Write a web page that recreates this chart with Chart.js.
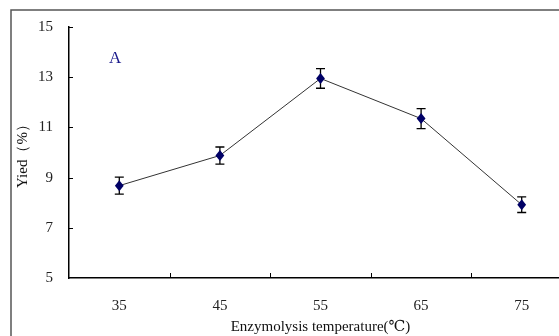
<!DOCTYPE html>
<html>
<head>
<meta charset="utf-8">
<script src="https://cdn.jsdelivr.net/npm/chart.js@4"></script>
<style>
  html, body { margin: 0; padding: 0; background: #fff; overflow: hidden; width: 559px; height: 336px; }
  #wrap { position: relative; width: 580px; height: 336px; }
</style>
</head>
<body>
<div id="wrap"><canvas id="c" width="580" height="336"></canvas></div>
<script>
const categories = ['35', '45', '55', '65', '75'];
const yieldValues = [8.68, 9.88, 12.95, 11.35, 7.92];
const errorValues = [0.34, 0.34, 0.39, 0.4, 0.31];
const yTicks = [5, 7, 9, 11, 13, 15];

const serif = '"Liberation Serif", "DejaVu Serif", serif';

const framePlugin = {
  id: 'frame',
  beforeDraw(chart) {
    const ctx = chart.ctx;
    ctx.save();
    ctx.strokeStyle = '#555';
    ctx.lineWidth = 1.5;
    ctx.strokeRect(11, 10, 700, 400);
    ctx.restore();
  }
};

const decoPlugin = {
  id: 'deco',
  afterDatasetsDraw(chart) {
    const ctx = chart.ctx;
    const x = chart.scales.x, y = chart.scales.y;
    ctx.save();
    ctx.strokeStyle = '#000';
    ctx.lineWidth = 1;
    yTicks.forEach(v => {
      if (v === yTicks[0]) return;
      const py = Math.round(y.getPixelForValue(v)) + 0.5;
      ctx.beginPath();
      ctx.moveTo(x.left, py);
      ctx.lineTo(x.left + 4, py);
      ctx.stroke();
    });
    for (let i = 0; i < categories.length; i++) {
      const px = Math.round((x.getPixelForValue(i) + x.getPixelForValue(i + 1)) / 2) + 0.5;
      ctx.beginPath();
      ctx.moveTo(px, y.bottom);
      ctx.lineTo(px, y.bottom - 5);
      ctx.stroke();
    }
    ctx.strokeStyle = '#000';
    ctx.lineWidth = 1.3;
    yieldValues.forEach((v, i) => {
      const px = x.getPixelForValue(i);
      const top = y.getPixelForValue(v + errorValues[i]);
      const bot = y.getPixelForValue(v - errorValues[i]);
      ctx.beginPath();
      ctx.moveTo(px, top); ctx.lineTo(px, bot);
      ctx.moveTo(px - 4.5, top); ctx.lineTo(px + 4.5, top);
      ctx.moveTo(px - 4.5, bot); ctx.lineTo(px + 4.5, bot);
      ctx.stroke();
    });
    const meta = chart.getDatasetMeta(0);
    ctx.fillStyle = '#000066';
    meta.data.forEach(pt => {
      const r = 5.5;
      ctx.beginPath();
      ctx.moveTo(pt.x, pt.y - r);
      ctx.lineTo(pt.x + r * 0.8, pt.y);
      ctx.lineTo(pt.x, pt.y + r);
      ctx.lineTo(pt.x - r * 0.8, pt.y);
      ctx.closePath();
      ctx.fill();
    });
    ctx.fillStyle = '#1a1a8c';
    ctx.font = '17px ' + serif;
    ctx.textAlign = 'left';
    ctx.textBaseline = 'middle';
    ctx.fillText('A', 109, 59);
    ctx.restore();
  }
};

new Chart(document.getElementById('c'), {
  type: 'line',
  data: {
    labels: categories,
    datasets: [{
      data: yieldValues,
      borderColor: '#333',
      borderWidth: 1,
      pointRadius: 0,
      pointHoverRadius: 0,
      tension: 0,
      fill: false
    }]
  },
  options: {
    responsive: false,
    animation: false,
    events: [],
    layout: { padding: { top: 27, right: 8, bottom: 0, left: 14 } },
    plugins: { legend: { display: false }, tooltip: { enabled: false } },
    scales: {
      x: {
        type: 'category',
        offset: true,
        grid: { display: true, drawOnChartArea: false, drawTicks: false, offset: true, color: 'rgba(0,0,0,0)' },
        border: { display: true, color: '#000', width: 1.5 },
        ticks: { color: '#222', font: { family: serif, size: 15 }, padding: 19, maxRotation: 0 },
        title: { display: true, text: 'Enzymolysis temperature(℃)', color: '#111', font: { family: serif, size: 15 }, padding: { top: 0, bottom: 0 } },
        afterFit(s) { s.height = 58; }
      },
      y: {
        min: 5, max: 15,
        afterBuildTicks(s) { s.ticks = yTicks.map(v => ({ value: v })); },
        grid: { display: true, drawOnChartArea: false, drawTicks: false, color: 'rgba(0,0,0,0)' },
        border: { display: true, color: '#000', width: 1.5 },
        ticks: { color: '#222', font: { family: serif, size: 15 }, padding: 16 },
        title: { display: true, text: 'Yied（%）', color: '#111', font: { family: serif, size: 15 }, padding: { top: 0, bottom: 6 } },
        afterFit(s) { s.width = 55; }
      }
    }
  },
  plugins: [framePlugin, decoPlugin]
});
</script>
</body>
</html>
